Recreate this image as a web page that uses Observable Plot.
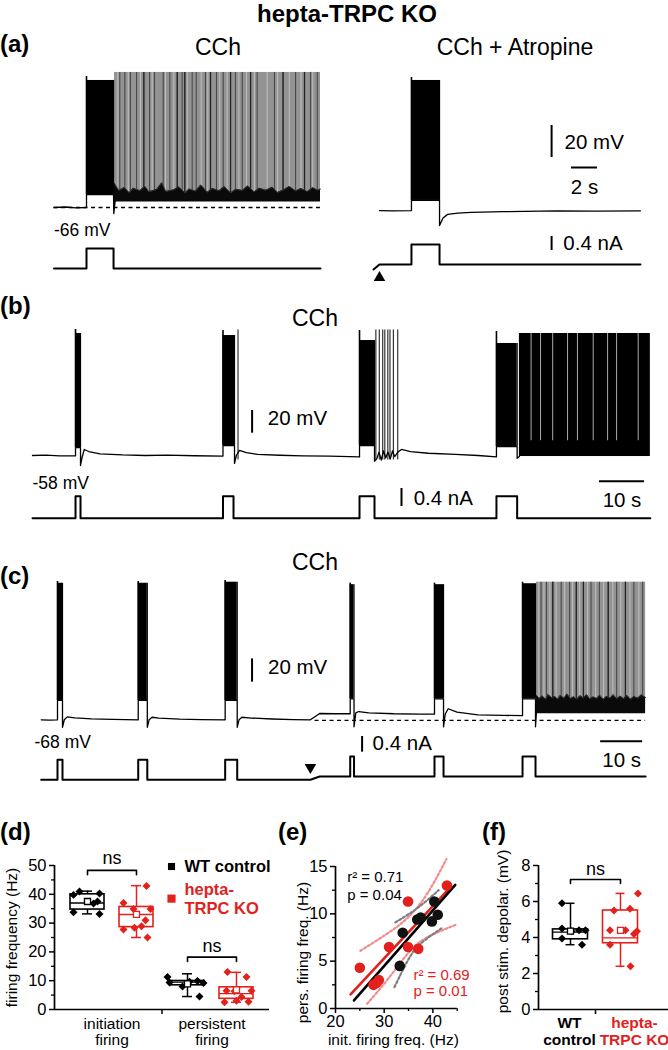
<!DOCTYPE html>
<html>
<head>
<meta charset="utf-8">
<script src="https://cdn.jsdelivr.net/npm/d3@7"></script>
<script src="https://cdn.jsdelivr.net/npm/@observablehq/plot@0.6"></script>
<style>
  html,body{margin:0;padding:0;background:#fff;}
  #fig{position:relative;width:668px;height:1050px;overflow:hidden;background:#fff;
       font-family:"Liberation Sans",Arial,Helvetica,sans-serif;color:#000;}
  #fig .lbl{position:absolute;white-space:nowrap;line-height:1;}
  #fig svg{position:absolute;overflow:visible;}
</style>
</head>
<body>
<div id="fig"></div>
<script>
// ================= DATA =================
// scale bars
const scaleMv = 20, scaleNa = 0.4, aScaleS = 2, bcScaleS = 10;

// (a) left: CCh  (time s, membrane potential mV, current nA)
const aRestMv = -66;
const aLeftVm = [[0,-66],[0.9,-65.7],[1.7,-66.2],[2.5,-66],[2.5,-58],[4.58,-58],[4.6,-69.8],[4.7,-62]];
const aLeftBurst = [[2.5,4.58,-58,13.4,15.9]];            // start, end, floor, top, peak
const aLeftPersist = [4.65,20.5,18.4];                     // start, end, spike top
const aLeftSpikes = [5.06,5.45,5.88,6.35,6.91,7.35,7.73,8.4,8.91,9.48,9.86,10.06,10.63,10.94,11.65,12.04,12.5,13.02,13.58,13.96,14.48,15.12,15.63,16.96,17.62,18.58,19.27,19.73,20.25];
const aLeftSpikesDark = [6.91,9.48,10.06,12.04,13.58,15.12,17.62,19.27];
const aLeftSpikesLight = [4.91,5.71,6.65,7.55,8.58,9.22,10.25,11.32,11.83,12.75,13.32,14.22,14.81,15.42,16.4,17.2,18.1,19.0,19.9];
const aLeftBand = [[4.65,-51],[5.0,-55.5],[5.4,-53.5],[5.8,-56.8],[6.1,-54],[6.6,-55.5],[7.0,-52.8],[7.3,-56.2],[7.9,-54.8],[8.3,-50.5],[8.6,-56],[9.2,-55],[9.6,-53.2],[10.1,-57],[10.4,-54.5],[10.9,-55.8],[11.3,-52],[11.8,-56.5],[12.2,-54.2],[12.7,-55.6],[13.1,-53],[13.6,-56.9],[14.0,-54.6],[14.5,-55.4],[14.9,-52.6],[15.4,-56.3],[15.8,-54],[16.3,-55.2],[16.8,-53.4],[17.2,-56.6],[17.7,-54.9],[18.1,-52.9],[18.6,-55.7],[19.0,-54.2],[19.5,-56.1],[19.9,-53.6],[20.3,-55.3],[20.5,-54.5]];
const aLeftBandLow = -62.5;
const aLeftIm = [[0,0],[2.5,0],[2.5,0.57],[4.58,0.57],[4.58,0],[20.5,0]];
// (a) right: CCh + Atropine
const aRightVm = [[0.46,-67.9],[1.5,-68.1],[2.92,-67.9],[2.92,-61.6],[5.08,-61.6],[5.08,-77.3],[5.35,-72.5],[5.7,-70.3],[6.5,-69.5],[7.5,-69.1],[10,-68.6],[14.1,-68.1],[17,-68.3],[20.54,-68.1]];
const aRightBurst = [[2.92,5.08,-61.6,13.4,15.25]];
const aRightIm = [[0,-0.03],[0.46,0.114],[2.92,0.114],[2.92,0.686],[5.08,0.686],[5.08,0.114],[20.54,0.114]];
const aArrow = [[0.46,-0.26]];

// (b)
const bRestMv = -58;
const bVm = [[0,-58],[3,-57.6],[6,-58.3],[9.56,-58.2],[9.56,-51],[10.67,-51],[10.67,-66.8],[11.0,-60],[11.5,-52.7],[12.5,-54.5],[15,-56.5],[20,-57.5],[25,-58],[30,-57.6],[36,-58.2],[42.33,-58.5],[42.33,-49.2],[44.89,-49.2],[44.89,-65],[45.3,-58],[46.0,-53.5],[47.5,-55.5],[50,-57],[55,-57.8],[60,-58.3],[66,-58.6],[72.67,-59.2],[72.67,-49.2],[76.0,-49.2],[76.0,-63],[76.5,-61],[77,-55],[77.5,-62],[78,-54],[78.5,-60],[79,-55],[79.5,-61],[80,-54],[80.5,-59],[81.2,-55],[82,-52.7],[84,-54.5],[88,-56],[94,-57],[99,-58],[103.1,-59.2],[103.1,-50.1],[107.7,-50.1],[107.7,-60.5],[108.2,-58.9]];
const bBursts = [[9.56,10.67,-51,49.5,53],[42.33,44.89,-49.2,47.7,52.1],[72.67,76.0,-49.2,43.3,52.1],[103.1,107.7,-50.1,40.7,51.25]];
const bSpikes = [45.67,76.3,77.07,77.82,78.29,78.96,79.44,80.2,81.16];
const bPersist = [108.2,137.3,49.5];
const bPersistLow = -58.9;
const bGaps = [110.8,112.9,115.6,118.9,121.1,124.6,127.8,129.8,134.6];
const bIm = [[0,0],[9.56,0],[9.56,0.49],[10.67,0.49],[10.67,0],[42.33,0],[42.33,0.49],[44.67,0.49],[44.67,0],[72.67,0],[72.67,0.49],[76.0,0.49],[76.0,0],[103.1,0],[103.1,0.49],[107.7,0.49],[107.7,0],[137.3,0]];

// (c)
const cRestMv = -68.5;
const cVm = [[0,-68],[2,-68.3],[3.88,-68],[3.88,-51.4],[5.07,-51.4],[5.07,-74.4],[5.5,-68],[6.2,-65.5],[8,-66.3],[12,-67.2],[17,-67.7],[23.1,-68],[23.1,-51.4],[25.26,-51.4],[25.26,-74.4],[25.7,-68],[26.4,-65.8],[28,-66.6],[33,-67.4],[38,-67.8],[43.8,-68],[43.8,-51.4],[46.67,-51.4],[46.67,-74.4],[47.1,-68],[47.8,-65.8],[50,-66.5],[55,-67.3],[60,-67.8],[64.1,-68],[66.3,-62.6],[70,-62.8],[73.57,-62.8],[73.57,-50.1],[74.48,-50.1],[74.48,-74],[74.9,-62],[75.6,-60.9],[78,-62],[84,-62.8],[90,-63.1],[93.64,-63.2],[93.64,-50.1],[95.79,-50.1],[95.79,-74],[96.2,-63],[96.9,-58.5],[99,-61.5],[104,-63.8],[110,-64.2],[114.6,-64.5],[114.6,-50.1],[117.69,-50.1],[117.69,-74],[117.9,-62]];
const cBursts = [[3.88,5.07,-51.4,49.2,50.7],[23.1,25.26,-51.4,49.2,50.7],[43.8,46.67,-51.4,50.1,51.6],[73.57,74.48,-50.1,48.0,49.3],[93.64,95.79,-50.1,48.0,49.3],[114.6,117.69,-50.1,48.8,50.1]];
const cPersist = [117.9,143.9,50.1];
const cSpikes = [119.0,120.3,121.8,123.8,125.8,127.4,129.1,130.9,132.9,135.0,137.0,139.1,141.1,143.2];
const cSpikesDark = [121.8,127.4,129.1,135.0,139.1];
const cSpikesLight = [118.5,119.7,121.1,122.6,124.6,126.5,128.2,130.1,132.0,133.9,136.1,138.0,140.2,142.3];
const cBand = [[117.9,-47],[118.6,-49.8],[119.3,-47.6],[120.1,-50.3],[120.7,-46.2],[121.5,-49.1],[122.3,-48],[123.0,-50.4],[123.6,-47.1],[124.5,-49.6],[125.2,-45.8],[126.0,-49.9],[126.8,-48.2],[127.5,-50.6],[128.3,-47.4],[129.1,-49.3],[129.9,-46.5],[130.6,-50.1],[131.4,-48.4],[132.3,-49.7],[133.0,-46.9],[133.8,-50.5],[134.6,-48],[135.5,-49.4],[136.2,-46.4],[137.0,-50],[137.9,-47.8],[138.7,-49.9],[139.5,-47.2],[140.3,-50.3],[141.2,-48.1],[142.0,-49.5],[142.9,-46.7],[143.9,-48.8]];
const cBandLow = -62.85;
const cIm = [[0,0],[3.88,0],[3.88,0.51],[5.07,0.51],[5.07,0],[23.1,0],[23.1,0.51],[25.26,0.51],[25.26,0],[43.8,0],[43.8,0.51],[46.67,0.51],[46.67,0],[64.1,0],[66.3,0.084],[73.57,0.084],[73.57,0.594],[74.48,0.594],[74.48,0.084],[93.64,0.084],[93.64,0.594],[95.79,0.594],[95.79,0.084],[114.6,0.084],[114.6,0.594],[117.69,0.594],[117.69,0.084],[143.9,0.084]];
const cArrow = [[64.1,0.32]];

// (d) firing frequency (Hz)
const dCats = ["initiation\nfiring", "persistent\nfiring"];
const wtInit = [33.2, 33.8, 36.8, 37.5, 39.8, 40.3, 41.0];
const wtPers = [4.5, 8.0, 9.4, 9.6, 9.2, 11.3, 9.9];
const koInit = [25.0, 27.8, 28.4, 28.9, 31.0, 34.9, 34.9, 37.0, 42.9];
const koPers = [4.3, 2.5, 2.7, 3.0, 6.5, 11.3, 6.5, 6.3, 13.0];
// box summaries: [min, q1, median, q3, max, mean]
const dBoxWtInit = [33.2, 34.7, 37.0, 40.0, 41.1, 37.5];
const dBoxKoInit = [25.0, 28.6, 33.0, 35.6, 43.0, 33.0];
const dBoxWtPers = [4.5, 8.4, 9.5, 9.9, 12.4, 8.9];
const dBoxKoPers = [2.5, 3.7, 5.5, 7.7, 12.9, 6.8];

// (e) regression
const fitWT = [[23.8, 0.85], [44.6, 13.05]];
const fitKO = [[23.1, 1.5], [43.6, 12.8]];
const ciWTUp = [[32.3, 9.1], [36.8, 10.6], [41.2, 12.5]];
const ciWTLo = [[32.1, 2.25], [34.85, 5.07], [37.45, 6.83], [41.9, 8.52]];
const ciKOUp = [[25.1, 6.1], [30.6, 7.9], [34.85, 9.6], [38.8, 12.1], [42.8, 15.8]];
const ciKOLo = [[26.5, 0.5], [30.6, 3.0], [34.85, 5.8], [38.8, 7.5], [45, 8.9]];
const statWT = ["r² = 0.71", "p = 0.04"];
const statKO = ["r² = 0.69", "p = 0.01"];

// (f) post stimulus depolarization (mV)
const fCats = ["WT\ncontrol", "hepta-\nTRPC KO"];
const wtDepol = [5.9, 4.5, 4.4, 4.4, 4.35, 3.95, 3.6];
const koDepol = [6.45, 5.6, 5.5, 4.4, 4.4, 4.35, 4.2, 3.6, 2.4];
const fBoxWt = [3.6, 3.9, 4.3, 4.45, 5.9, 4.35];
const fBoxKo = [2.4, 3.68, 3.98, 5.5, 6.45, 4.4];

// ================= DRAWING =================
const FONT = '"Liberation Sans", Arial, Helvetica, sans-serif';
const RED = "#e3211c";
const GRAY = "#939393";
const DARK = "#4a4a4a";
const fig = document.getElementById("fig");

function put(svg, left, top) {
  svg.style.left = left + "px";
  svg.style.top = top + "px";
  fig.appendChild(svg);
}
function label(text, x, y, o = {}) {
  const d = document.createElement("div");
  d.className = "lbl";
  d.textContent = text;
  d.style.left = x + "px";
  d.style.top = y + "px";
  d.style.fontSize = (o.size || 20) + "px";
  d.style.fontWeight = o.weight || "normal";
  d.style.color = o.color || "#000";
  const tx = (o.anchor || "middle") === "middle" ? "-50%" : (o.anchor === "end" ? "-100%" : "0");
  d.style.transform = `translate(${tx}, -50%)`;
  fig.appendChild(d);
}
// trace plot: box = [x0,y0,x1,y1] page px; xm = [t0,t1,px0,px1]; ym = [v0,v1,py0,py1]
function trace(box, xm, ym, marks) {
  const [x0, y0, x1, y1] = box;
  const svg = Plot.plot({
    width: x1 - x0, height: y1 - y0, margin: 0,
    x: {domain: [xm[0], xm[1]], range: [xm[2] - x0, xm[3] - x0], axis: null},
    y: {domain: [ym[0], ym[1]], range: [ym[2] - y0, ym[3] - y0], axis: null},
    style: {fontFamily: FONT, background: "transparent", overflow: "visible", color: "#000"},
    marks
  });
  put(svg, x0, y0);
}
const P = d => d[0], Q = d => d[1];
function vLine(data) { return Plot.line(data, {x: P, y: Q, stroke: "#000", strokeWidth: 1.3}); }
function iLine(data) { return Plot.line(data, {x: P, y: Q, stroke: "#000", strokeWidth: 2}); }
function burstMarks(bursts) {
  return [
    Plot.rect(bursts, {x1: d => d[0], x2: d => d[1], y1: d => d[2], y2: d => d[3], fill: "#000"}),
    Plot.ruleX(bursts, {x: d => d[0], y1: d => d[2], y2: d => d[4], stroke: "#000", strokeWidth: 1.6}),
    Plot.ruleX(bursts, {x: d => d[1], y1: d => d[2], y2: d => d[3], stroke: "#000", strokeWidth: 1.2})
  ];
}
function persistMarks(p, low, spikes, dark, light, band, bandLow) {
  return [
    Plot.rect([p], {x1: d => d[0], x2: d => d[1], y1: low, y2: d => d[2], fill: GRAY}),
    Plot.ruleX(light, {x: d => d, y1: low, y2: p[2], stroke: "#c4c4c4", strokeWidth: 0.9}),
    Plot.ruleX(spikes, {x: d => d, y1: low, y2: p[2], stroke: DARK, strokeWidth: 1.1}),
    Plot.ruleX(dark, {x: d => d, y1: low, y2: p[2], stroke: "#222", strokeWidth: 1.2}),
    Plot.areaY(band, {x: P, y1: bandLow, y2: Q, fill: "#0a0a0a", curve: "linear"}),
    Plot.line(band, {x: P, y: Q, stroke: "#333", strokeWidth: 1})
  ];
}
const txt = (s, x, y, o = {}) => Plot.text([s], {x, y, fontSize: o.size || 20.5, textAnchor: o.anchor || "start", lineAnchor: "middle", fill: "#000"});

// ---- (a) ----
const aXL = [0, 20.5, 53.5, 320], aXR = [0, 20.54, 373, 640];
const aYV = [-66, -46, 207, 175], aYI = [0, 0.4, 268, 254];
trace([40, 60, 330, 240], aXL, aYV, [
  ...persistMarks(aLeftPersist, -57, aLeftSpikes, aLeftSpikesDark, aLeftSpikesLight, aLeftBand, aLeftBandLow),
  ...burstMarks(aLeftBurst),
  Plot.ruleY([aRestMv], {x1: 0, x2: 20.5, stroke: "#000", strokeWidth: 1.4, strokeDasharray: "4,3.5"}),
  vLine(aLeftVm),
  txt("-66 mV", 0, -80.4, {size: 17.5})
]);
trace([40, 235, 330, 285], aXL, aYI, [iLine(aLeftIm)]);
trace([365, 60, 668, 240], aXR, aYV, [
  ...burstMarks(aRightBurst),
  vLine(aRightVm),
  Plot.ruleX([13.7], {y1: -34.75, y2: -34.75 + scaleMv, stroke: "#000", strokeWidth: 2}),
  Plot.ruleY([-41], {x1: 15.23, x2: 15.23 + aScaleS, stroke: "#000", strokeWidth: 2}),
  txt(`${scaleMv} mV`, 14.7, -25.4),
  txt(`${aScaleS} s`, 16.23, -53.5, {anchor: "middle"})
]);
trace([365, 228, 668, 290], aXR, aYI, [
  iLine(aRightIm),
  Plot.dot(aArrow, {x: P, y: Q, symbol: "triangle", r: 4.3, fill: "#000", stroke: "none"}),
  Plot.ruleX([13.7], {y1: 0.514, y2: 0.514 + scaleNa, stroke: "#000", strokeWidth: 2}),
  txt(`${scaleNa} nA`, 14.6, 0.714)
]);

// ---- (b) ----
const bX = [0, 137.3, 32, 649.85], bYV = [-58, -38, 455, 432.3], bYI = [0, 0.4, 517.7, 499.7];
trace([20, 320, 668, 505], bX, bYV, [
  Plot.rect([bPersist], {x1: d => d[0], x2: d => d[1], y1: bPersistLow, y2: d => d[2], fill: "#000"}),
  Plot.ruleX(bGaps, {x: d => d, y1: -45, y2: bPersist[2], stroke: "#fff", strokeWidth: 0.8, strokeOpacity: 0.85}),
  Plot.ruleX(bSpikes, {x: d => d, y1: -62, y2: 52.5, stroke: "#333", strokeWidth: 1.2}),
  ...burstMarks(bBursts),
  vLine(bVm),
  Plot.ruleX([48.8], {y1: -38.35, y2: -38.35 + scaleMv, stroke: "#000", strokeWidth: 2}),
  Plot.ruleY([-80.6], {x1: 126, x2: 126 + bcScaleS, stroke: "#000", strokeWidth: 2}),
  txt(`${scaleMv} mV`, 52.3, -25.4),
  txt(`${bcScaleS} s`, 131, -97.6, {anchor: "middle"}),
  txt("-58 mV", 0, -82.4, {size: 17.5})
]);
trace([20, 485, 668, 530], bX, bYI, [
  iLine(bIm),
  Plot.ruleX([82], {y1: 0.26, y2: 0.26 + scaleNa, stroke: "#000", strokeWidth: 2}),
  txt(`${scaleNa} nA`, 84.7, 0.44)
]);

// ---- (c) ----
const cX = [0, 143.9, 40.7, 645.1], cYV = [-68, -48, 719.3, 696], cYI = [0, 0.4, 779.3, 763.6];
trace([20, 570, 668, 735], cX, cYV, [
  ...persistMarks(cPersist, -55, cSpikes, cSpikesDark, cSpikesLight, cBand, cBandLow),
  ...burstMarks(cBursts),
  Plot.ruleY([cRestMv], {x1: 65.2, x2: 143.9, stroke: "#000", strokeWidth: 1.4, strokeDasharray: "4,3.5"}),
  vLine(cVm),
  Plot.ruleX([50.2], {y1: -35.7, y2: -35.7 + scaleMv, stroke: "#000", strokeWidth: 2}),
  txt(`${scaleMv} mV`, 54, -22.8)
]);
trace([20, 730, 668, 790], cX, cYI, [
  iLine(cIm),
  Plot.dot(cArrow, {x: P, y: Q, symbol: "triangle", r: 4.3, rotate: 180, fill: "#000", stroke: "none"}),
  Plot.ruleX([76.4], {y1: 0.704, y2: 0.704 + scaleNa, stroke: "#000", strokeWidth: 2}),
  txt(`${scaleNa} nA`, 78.9, 0.918),
  Plot.ruleY([0.985], {x1: 133.2, x2: 133.2 + bcScaleS, stroke: "#000", strokeWidth: 2}),
  txt(`${bcScaleS} s`, 138.2, 0.49, {anchor: "middle"}),
  txt("-68 mV", -1.6, 0.96, {size: 17.5})
]);

// ---- box helpers ----
function boxMarks(boxes, pts, halfW, capW) {
  const caps = boxes.flatMap(b => [{x: b.x, y: b.s[0], c: b.c}, {x: b.x, y: b.s[4], c: b.c}]);
  return [
    Plot.ruleX(boxes, {x: "x", y1: d => d.s[0], y2: d => d.s[4], stroke: "c", strokeWidth: 1.5}),
    Plot.ruleY(caps, {y: "y", x1: d => d.x - capW, x2: d => d.x + capW, stroke: "c", strokeWidth: 1.5}),
    Plot.rect(boxes, {x1: d => d.x - halfW, x2: d => d.x + halfW, y1: d => d.s[1], y2: d => d.s[3], fill: "#fff", stroke: "c", strokeWidth: 1.6}),
    Plot.ruleY(boxes, {y: d => d.s[2], x1: d => d.x - halfW, x2: d => d.x + halfW, stroke: "c", strokeWidth: 1.4}),
    Plot.dot(pts, {x: "x", y: "y", symbol: "diamond2", r: 3.6, fill: "c", stroke: "none"}),
    Plot.dot(boxes, {x: "x", y: d => d.s[5], symbol: "square", r: 3.4, fill: "#fff", stroke: "c", strokeWidth: 1.3})
  ];
}
function bracket(x1, x2, yTop, yEnd) {
  return Plot.line([[x1, yEnd], [x1, yTop], [x2, yTop], [x2, yEnd]], {x: P, y: Q, stroke: "#000", strokeWidth: 1.6});
}
const axisStyle = {fontFamily: FONT, background: "transparent", overflow: "visible", color: "#000"};

// ---- (d) ----
{
  const off = 0.245;
  const jWI = [0.12, -0.14, 0.06, 0.1, -0.14, 0.12, -0.08];
  const jKI = [0.11, -0.13, -0.02, 0.05, 0.09, 0.14, -0.03, -0.13, 0.10];
  const jWP = [0.12, -0.05, -0.18, 0.02, 0.16, -0.2, 0.1];
  const jKP = [0.05, -0.12, 0.12, 0.0, -0.1, 0.1, 0.15, -0.02, -0.09];
  const boxes = [
    {x: -off, s: dBoxWtInit, c: "#000"}, {x: off, s: dBoxKoInit, c: RED},
    {x: 1 - off, s: dBoxWtPers, c: "#000"}, {x: 1 + off, s: dBoxKoPers, c: RED}
  ];
  const pts = [
    ...wtInit.map((v, i) => ({x: -off + jWI[i], y: v, c: "#000"})),
    ...koInit.map((v, i) => ({x: off + jKI[i], y: v, c: RED})),
    ...wtPers.map((v, i) => ({x: 1 - off + jWP[i], y: v, c: "#000"})),
    ...koPers.map((v, i) => ({x: 1 + off + jKP[i], y: v, c: RED}))
  ];
  const svg = Plot.plot({
    width: 300, height: 210, marginLeft: 54, marginRight: 31, marginTop: 25, marginBottom: 41,
    x: {domain: [-0.575, 1.575]}, y: {domain: [0, 50]}, color: {type: "identity"},
    style: axisStyle,
    marks: [
      Plot.axisY({ticks: [0, 10, 20, 30, 40, 50], tickSize: 5, tickPadding: 3, fontSize: 16.5, label: null, strokeWidth: 1.5}),
      Plot.axisY({ticks: [5, 15, 25, 35, 45], tickSize: 3, tickFormat: () => "", label: null, strokeWidth: 1.3}),
      Plot.axisX({ticks: [0.5], tickSize: 5, tickFormat: () => "", label: null, strokeWidth: 1.5}),
      Plot.ruleX([-0.575], {y1: 0, y2: 50, stroke: "#000", strokeWidth: 1.7}),
      Plot.ruleY([0], {x1: -0.575, x2: 1.575, stroke: "#000", strokeWidth: 1.7}),
      Plot.text(dCats, {x: (d, i) => i, y: 0, dy: 8, lineAnchor: "top", fontSize: 15.5, lineHeight: 1.05, fill: "#000"}),
      Plot.text(["firing frequency (Hz)"], {frameAnchor: "left", dx: -42, textAnchor: "middle", rotate: -90, fontSize: 15.5, fill: "#000"}),
      ...boxMarks(boxes, pts, 0.17, 0.05),
      bracket(-off, off, 48.3, 46.8), Plot.text(["ns"], {x: 0, y: 52.4, fontSize: 18, fill: "#000"}),
      bracket(1 - off, 1 + off, 18.2, 16.7), Plot.text(["ns"], {x: 1, y: 21.8, fontSize: 18, fill: "#000"}),
      Plot.dot([[0.595, 49.65]], {x: P, y: Q, symbol: "square", r: 4.0, fill: "#000"}),
      Plot.dot([[0.595, 38.5]], {x: P, y: Q, symbol: "square", r: 4.6, fill: RED}),
      Plot.text(["WT control"], {x: 0.725, y: 49.65, textAnchor: "start", fontSize: 16.5, fontWeight: "bold", fill: "#000"}),
      Plot.text(["hepta-\nTRPC KO"], {x: 0.725, y: 38.5, textAnchor: "start", fontSize: 16.5, fontWeight: "bold", lineHeight: 1.1, fill: RED})
    ]
  });
  put(svg, 0, 840);
}

// ---- (e) ----
{
  const wt = wtInit.map((v, i) => [v, wtPers[i]]);
  const ko = koInit.map((v, i) => [v, koPers[i]]);
  const dotted = (data, stroke) => Plot.line(data, {x: P, y: Q, stroke, strokeWidth: 2.2, strokeDasharray: "2.2,2.2", curve: "natural"});
  const svg = Plot.plot({
    width: 180, height: 210, marginLeft: 45, marginRight: 13.3, marginTop: 26, marginBottom: 42,
    x: {domain: [20, 45]}, y: {domain: [0, 15]},
    style: axisStyle,
    marks: [
      Plot.axisY({ticks: [0, 5, 10, 15], tickSize: 5, tickPadding: 3, fontSize: 16.5, label: null, strokeWidth: 1.5}),
      Plot.axisY({ticks: [2.5, 7.5, 12.5], tickSize: 3, tickFormat: () => "", label: null, strokeWidth: 1.3}),
      Plot.axisX({ticks: [20, 30, 40], tickSize: 5, tickPadding: 2, fontSize: 16.5, label: null, strokeWidth: 1.5}),
      Plot.axisX({ticks: [25, 35, 45], tickSize: 3, tickFormat: () => "", label: null, strokeWidth: 1.3}),
      Plot.ruleX([20], {y1: 0, y2: 15, stroke: "#000", strokeWidth: 1.7}),
      Plot.ruleY([0], {x1: 20, x2: 45, stroke: "#000", strokeWidth: 1.7}),
      Plot.text(["pers. firing freq. (Hz)"], {frameAnchor: "left", dx: -32, dy: 15, textAnchor: "middle", rotate: -90, fontSize: 15.5, fill: "#000"}),
      Plot.text(["init. firing freq. (Hz)"], {frameAnchor: "bottom", dx: -3, dy: 36, fontSize: 15.5, fill: "#000"}),
      dotted(ciKOUp, "#f08c8c"), dotted(ciKOLo, "#f08c8c"),
      dotted(ciWTUp, "#7d7d7d"), dotted(ciWTLo, "#7d7d7d"),
      Plot.line(fitKO, {x: P, y: Q, stroke: RED, strokeWidth: 2.6}),
      Plot.line(fitWT, {x: P, y: Q, stroke: "#000", strokeWidth: 2.6}),
      Plot.dot(ko, {x: P, y: Q, r: 5.3, fill: RED}),
      Plot.dot(wt, {x: P, y: Q, r: 5.3, fill: "#111"}),
      Plot.text(statWT, {x: 22.4, y: (d, i) => 13.87 - i * 1.94, textAnchor: "start", fontSize: 15, fill: "#000"}),
      Plot.text(statKO, {x: 36.0, y: (d, i) => 3.48 - i * 1.69, textAnchor: "start", fontSize: 15, fill: RED})
    ]
  });
  put(svg, 290, 840);
}

// ---- (f) ----
{
  const jW = [-0.17, -0.17, 0.17, 0.3, 0.02, -0.17, 0.23];
  const jK = [0.35, 0.19, -0.13, -0.21, 0.1, 0.33, 0.27, -0.21, 0.2];
  const boxes = [{x: 0, s: fBoxWt, c: "#000"}, {x: 1, s: fBoxKo, c: RED}];
  const pts = [
    ...wtDepol.map((v, i) => ({x: jW[i], y: v, c: "#000"})),
    ...koDepol.map((v, i) => ({x: 1 + jK[i], y: v, c: RED}))
  ];
  const svg = Plot.plot({
    width: 178, height: 210, marginLeft: 48, marginRight: 0, marginTop: 25, marginBottom: 41,
    x: {domain: [-0.64, 1.96]}, y: {domain: [0, 8]}, color: {type: "identity"},
    style: axisStyle,
    marks: [
      Plot.axisY({ticks: [0, 2, 4, 6, 8], tickSize: 5, tickPadding: 3, fontSize: 16.5, label: null, strokeWidth: 1.5}),
      Plot.axisY({ticks: [1, 3, 5, 7], tickSize: 3, tickFormat: () => "", label: null, strokeWidth: 1.3}),
      Plot.axisX({ticks: [0.5], tickSize: 5, tickFormat: () => "", label: null, strokeWidth: 1.5}),
      Plot.ruleX([-0.64], {y1: 0, y2: 8, stroke: "#000", strokeWidth: 1.7}),
      Plot.ruleY([0], {x1: -0.64, x2: 1.96, stroke: "#000", strokeWidth: 1.7}),
      Plot.text(["post stim. depolar. (mV)"], {frameAnchor: "left", dx: -35, dy: -6, textAnchor: "middle", rotate: -90, fontSize: 15.5, fill: "#000"}),
      Plot.text([fCats[0]], {x: -0.02, y: 0, dy: 6, lineAnchor: "top", fontSize: 15.5, fontWeight: "bold", lineHeight: 1.1, fill: "#000"}),
      Plot.text([fCats[1]], {x: 1.28, y: 0, dy: 6, lineAnchor: "top", fontSize: 15.5, fontWeight: "bold", lineHeight: 1.1, fill: RED}),
      ...boxMarks(boxes, pts, 0.35, 0.09),
      bracket(0, 1, 7.22, 7.0), Plot.text(["ns"], {x: 0.5, y: 7.78, fontSize: 18, fill: "#000"})
    ]
  });
  put(svg, 490, 840);
}

// ---- page text ----
label("hepta-TRPC KO", 347, 14, {size: 24, weight: "bold"});
label("(a)", 0, 44, {size: 24, weight: "bold", anchor: "start"});
label("CCh", 218, 47, {size: 23});
label("CCh + Atropine", 515, 47, {size: 23});
label("(b)", 0, 306, {size: 24, weight: "bold", anchor: "start"});
label("CCh", 315, 318, {size: 23});
label("(c)", 0, 576, {size: 24, weight: "bold", anchor: "start"});
label("CCh", 315, 562, {size: 23});
label("(d)", 0, 832, {size: 24, weight: "bold", anchor: "start"});
label("(e)", 278, 832, {size: 24, weight: "bold", anchor: "start"});
label("(f)", 482, 832, {size: 24, weight: "bold", anchor: "start"});
</script>
</body>
</html>
